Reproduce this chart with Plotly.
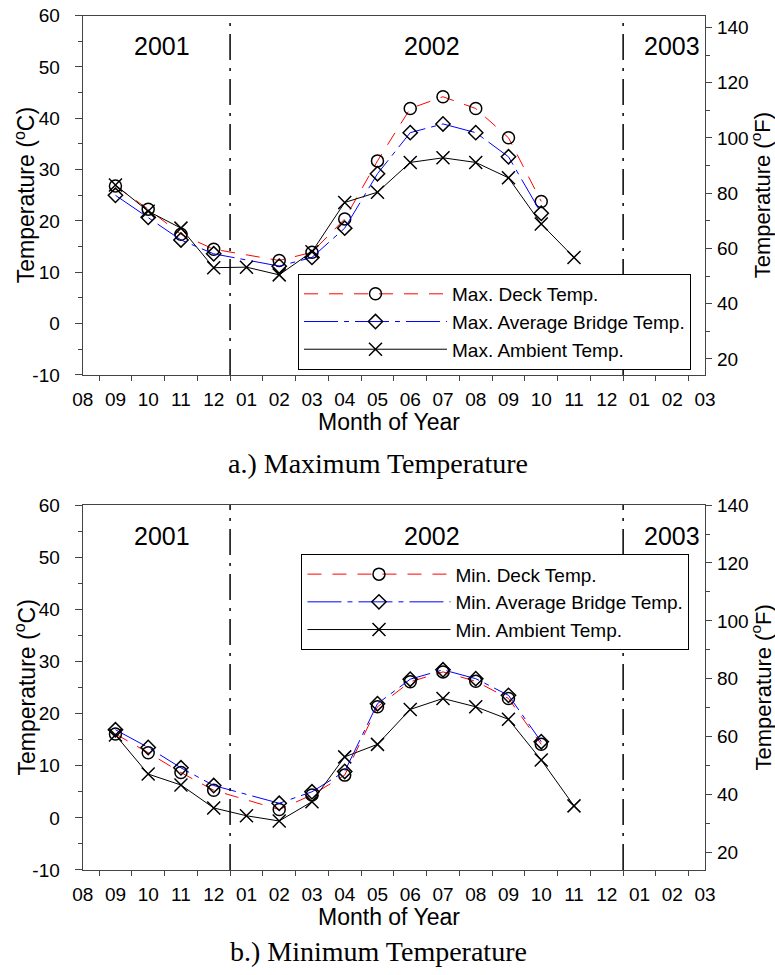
import plotly.graph_objects as go

# ---------------- data ----------------
month_labels = ["08", "09", "10", "11", "12", "01", "02", "03", "04", "05",
                "06", "07", "08", "09", "10", "11", "12", "01", "02", "03"]

# month index (0 = Aug 2001 ... 19 = Mar 2003)
deck_idx = [1, 2, 3, 4, 6, 7, 8, 9, 10, 11, 12, 13, 14]
amb_idx = [1, 2, 3, 4, 5, 6, 7, 8, 9, 10, 11, 12, 13, 14, 15]

max_deck = [26.8, 22.3, 17.4, 14.5, 12.3, 13.9, 20.4, 31.7, 41.9, 44.2, 41.9, 36.2, 23.8]
max_avg = [25.0, 20.7, 16.3, 13.6, 11.2, 12.9, 18.6, 29.2, 37.2, 38.9, 37.2, 32.5, 21.5]
max_amb = [27.0, 21.9, 18.6, 10.9, 11.0, 9.5, 14.0, 23.6, 25.6, 31.4, 32.3, 31.4, 28.4, 19.4, 12.9]

min_deck = [16.1, 12.5, 8.7, 5.3, 1.6, 4.4, 8.2, 21.3, 26.1, 28.0, 26.2, 22.9, 14.1]
min_avg = [16.9, 13.5, 9.6, 6.2, 2.8, 5.0, 8.9, 21.9, 26.6, 28.4, 26.7, 23.5, 14.6]
min_amb = [15.9, 8.4, 6.3, 1.9, 0.4, -0.6, 3.1, 11.7, 14.1, 20.8, 22.9, 21.3, 18.9, 11.1, 2.3]

celsius_ticks = [-10, 0, 10, 20, 30, 40, 50, 60]
fahrenheit_ticks = [20, 40, 60, 80, 100, 120, 140]

year_labels = ["2001", "2002", "2003"]
year_label_x = [2.42, 10.67, 18.0]
year_boundaries = [4.5, 16.5]

max_names = ["Max. Deck Temp.", "Max. Average Bridge Temp.", "Max. Ambient Temp."]
min_names = ["Min. Deck Temp.", "Min. Average Bridge Temp.", "Min. Ambient Temp."]
captions = ["a.) Maximum Temperature", "b.) Minimum Temperature"]
x_title = "Month of Year"
yl_title = "Temperature (<sup>o</sup>C)"
yr_title = "Temperature (<sup>o</sup>F)"

# ---------------- styling ----------------
SANS = "Liberation Sans, Arial, sans-serif"
SERIF = "Liberation Serif, Times New Roman, serif"
AX = "#444444"
TICK_FONT = dict(family=SANS, size=19, color="black")
TITLE_FONT = dict(family=SANS, size=23, color="black")
RTITLE_FONT = dict(family=SANS, size=22, color="black")

styles = [
    dict(color="red", dash="14px,11px", symbol="circle-open", size=12),
    dict(color="blue", dash="34px,6px,5px,6px", symbol="diamond-open", size=11),
    dict(color="black", dash="solid", symbol="x-thin-open", size=13),
]

fig = go.Figure()

def add_series(xs, ys, name, st, xa, ya, legend):
    fig.add_trace(go.Scatter(
        x=xs, y=ys, name=name, mode="lines+markers",
        xaxis=xa, yaxis=ya, legend=legend,
        line=dict(color=st["color"], dash=st["dash"], width=1),
        marker=dict(symbol=st["symbol"], size=st["size"], color="black",
                    line=dict(color="black", width=1.5)),
    ))

xs_sets = [deck_idx, deck_idx, amb_idx]
for ys, nm, st, xs in zip([max_deck, max_avg, max_amb], max_names, styles, xs_sets):
    add_series(xs, ys, nm, st, "x", "y", "legend")
for ys, nm, st, xs in zip([min_deck, min_avg, min_amb], min_names, styles, xs_sets):
    add_series(xs, ys, nm, st, "x2", "y3", "legend2")

# empty traces so the secondary (°F) axes get drawn
for xa, ya in [("x", "y2"), ("x2", "y4")]:
    fig.add_trace(go.Scatter(x=[], y=[], xaxis=xa, yaxis=ya, showlegend=False,
                             hoverinfo="skip", mode="lines"))

xdom = [0.1067, 0.9097]
dom_a = [0.6154, 0.984]
dom_b = [0.1077, 0.482]

def xaxis_cfg(anchor):
    return dict(
        domain=xdom, anchor=anchor, range=[0, 19], automargin=False,
        tickmode="array", tickvals=list(range(len(month_labels))), ticktext=month_labels,
        ticks="", showline=True, linecolor=AX, linewidth=1.2, mirror=True,
        tickfont=TICK_FONT, ticklabelstandoff=7,
        minor=dict(tickmode="array", tickvals=[k + 0.5 for k in range(19)],
                   ticks="outside", ticklen=5, tickcolor=AX, tickwidth=1),
        showgrid=False, zeroline=False,
    )

def yleft_cfg(anchor, dom):
    return dict(
        domain=dom, anchor=anchor, range=[-10, 60], automargin=False,
        tickmode="array", tickvals=celsius_ticks, ticktext=[str(v) for v in celsius_ticks],
        ticks="outside", ticklen=7, tickcolor=AX, showline=True, linecolor=AX, linewidth=1.2,
        minor=dict(tickmode="linear", tick0=-5, dtick=10, ticks="outside", ticklen=4, tickcolor=AX),
        tickfont=TICK_FONT, ticklabelstandoff=11,
        showgrid=False, zeroline=False,
    )

def yright_cfg(anchor, over, rng):
    return dict(
        anchor=anchor, overlaying=over, side="right", range=rng, automargin=False,
        tickmode="array", tickvals=fahrenheit_ticks,
        ticks="outside", ticklen=6, tickcolor=AX, showline=True, linecolor=AX, linewidth=1.2,
        minor=dict(tickmode="array", tickvals=[v + 10 for v in fahrenheit_ticks[:-1]],
                   ticks="outside", ticklen=4, tickcolor=AX),
        tickfont=TICK_FONT, ticklabelstandoff=1,
        showgrid=False, zeroline=False,
    )

legend_common = dict(
    bgcolor="white", bordercolor="black", borderwidth=1,
    font=dict(family=SANS, size=19, color="black"),
    itemwidth=143, tracegroupgap=0, xanchor="left", yanchor="top",
)

fig.update_layout(
    template="none",
    width=775, height=975, margin=dict(l=0, r=0, t=0, b=0, autoexpand=False),
    paper_bgcolor="white", plot_bgcolor="white",
    xaxis=xaxis_cfg("y"),
    yaxis=yleft_cfg("x", dom_a),
    yaxis2=yright_cfg("x", "y", [14.2, 144.3]),
    xaxis2=xaxis_cfg("y3"),
    yaxis3=yleft_cfg("x2", dom_b),
    yaxis4=yright_cfg("x2", "y3", [14.0, 140.0]),
    legend=dict(x=0.3845, y=0.719, **legend_common),
    legend2=dict(x=0.389, y=0.4315, **legend_common),
    showlegend=True,
)

# year boundary lines and year labels
for xa, ya in [("x", "y"), ("x2", "y3")]:
    for xb in year_boundaries:
        fig.add_shape(type="line", xref=xa, yref=f"{ya} domain", x0=xb, x1=xb, y0=0, y1=1,
                      line=dict(color="black", width=1.5, dash="26px,8px,3px,8px"))
    for lab, lx in zip(year_labels, year_label_x):
        fig.add_annotation(x=lx, y=54, xref=xa, yref=ya, text=lab, showarrow=False,
                           font=dict(family=SANS, size=25, color="black"))

# axis titles (placed as annotations for exact positioning)
xc = (xdom[0] + xdom[1]) / 2 - 0.006
for dom, xty in [(dom_a, 1 - 422 / 975), (dom_b, 1 - 917 / 975)]:
    ym = (dom[0] + dom[1]) / 2
    fig.add_annotation(x=xc, y=xty, xref="paper", yref="paper", text=x_title, showarrow=False,
                       xanchor="center", yanchor="middle", font=TITLE_FONT)
    fig.add_annotation(x=25 / 775, y=ym, xref="paper", yref="paper", text=yl_title, showarrow=False,
                       textangle=-90, xanchor="center", yanchor="middle", font=TITLE_FONT)
    fig.add_annotation(x=761 / 775, y=ym, xref="paper", yref="paper", text=yr_title, showarrow=False,
                       textangle=-90, xanchor="center", yanchor="middle", font=RTITLE_FONT)

caption_y = [1 - 463 / 975, 1 - 951 / 975]
for cap, cy in zip(captions, caption_y):
    fig.add_annotation(x=0.488, y=cy, xref="paper", yref="paper", text=cap, showarrow=False,
                       xanchor="center", yanchor="middle",
                       font=dict(family=SERIF, size=28, color="black"))

fig.write_html("out.html")
